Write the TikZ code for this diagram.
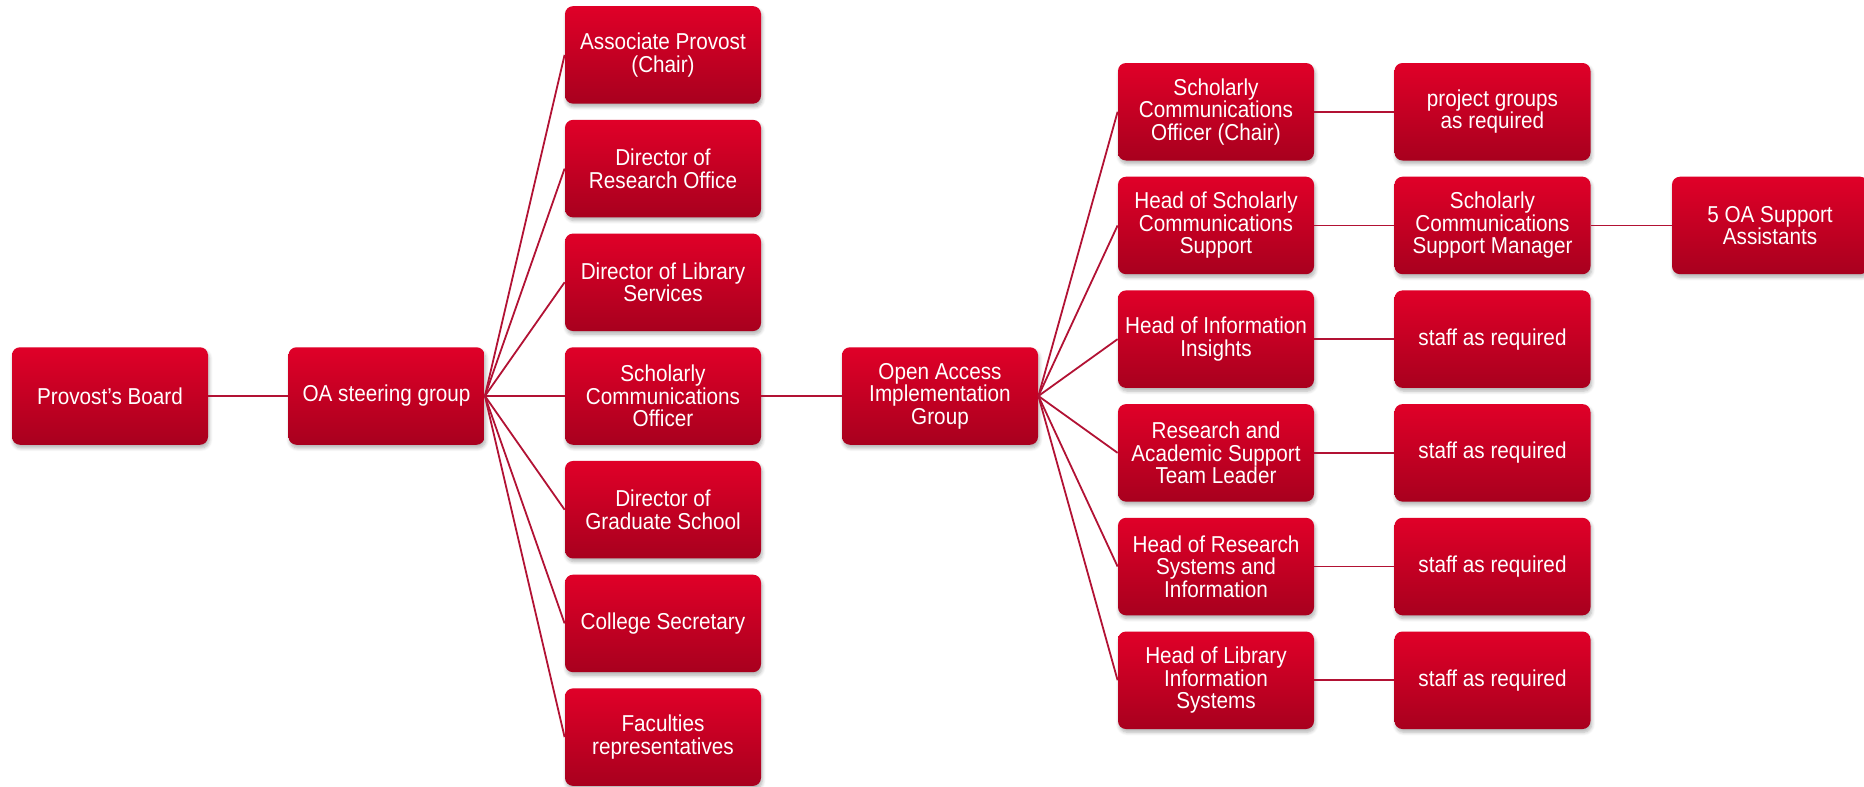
\documentclass[tikz,border=0pt]{standalone}
\usepackage{fontspec}
\usetikzlibrary{shadows.blur}
\newfontfamily\boxfont{Liberation Sans}[FakeStretch=0.9]
\definecolor{boxtop}{RGB}{224,0,40}
\definecolor{boxbot}{RGB}{168,0,30}
\definecolor{linecol}{RGB}{178,18,52}
\tikzset{
  orgbox/.style={rounded corners=4pt, minimum width=98pt, minimum height=48.75pt,
    align=center, top color=boxtop, bottom color=boxbot,
    text=white, font=\boxfont\fontsize{11.5}{11.3}\selectfont, inner sep=0pt,
    blur shadow={shadow xshift=0.6pt, shadow yshift=-1.6pt, shadow blur steps=6, shadow opacity=30}},
  link/.style={draw=linecol, line width=0.9pt}
}
\begin{document}
\begin{tikzpicture}[x=0.5pt,y=-0.5pt]
\useasboundingbox (0,0) rectangle (1864,787);
% column 0 and 1
\node[orgbox] (prov) at (110,396) {Provost’s Board};
\node[orgbox] (steer) at (386.5,396) {OA steering group};
% column 2
\node[orgbox] (assoc) at (663,54.9) {Associate Provost\\(Chair)};
\node[orgbox] (dro) at (663,168.6) {Director of\\Research Office};
\node[orgbox] (dls) at (663,282.3) {Director of Library\\Services};
\node[orgbox] (sco) at (663,396) {Scholarly\\Communications\\Officer};
\node[orgbox] (dgs) at (663,509.7) {Director of\\Graduate School};
\node[orgbox] (csec) at (663,623.4) {College Secretary};
\node[orgbox] (fac) at (663,737.1) {Faculties\\representatives};
% column 3
\node[orgbox] (oaig) at (940,396) {Open Access\\Implementation\\Group};
% column 4
\node[orgbox] (scoc) at (1216,111.75) {Scholarly\\Communications\\Officer (Chair)};
\node[orgbox] (hscs) at (1216,225.45) {Head of Scholarly\\Communications\\Support};
\node[orgbox] (hii) at (1216,339.15) {Head of Information\\Insights};
\node[orgbox] (rast) at (1216,452.85) {Research and\\Academic Support\\Team Leader};
\node[orgbox] (hrsi) at (1216,566.55) {Head of Research\\Systems and\\Information};
\node[orgbox] (hlis) at (1216,680.25) {Head of Library\\Information\\Systems};
% column 5
\node[orgbox] (pg) at (1492.5,111.75) {project groups\\as required};
\node[orgbox] (scsm) at (1492.5,225.45) {Scholarly\\Communications\\Support Manager};
\node[orgbox] (s1) at (1492.5,339.15) {staff as required};
\node[orgbox] (s2) at (1492.5,452.85) {staff as required};
\node[orgbox] (s3) at (1492.5,566.55) {staff as required};
\node[orgbox] (s4) at (1492.5,680.25) {staff as required};
% column 6
\node[orgbox] (oasa) at (1770,225.45) {5 OA Support\\Assistants};
% connectors
\draw[link] (prov.east) -- (steer.west);
\foreach \t in {assoc,dro,dls,sco,dgs,csec,fac} \draw[link] (steer.east) -- (\t.west);
\draw[link] (sco.east) -- (oaig.west);
\foreach \t in {scoc,hscs,hii,rast,hrsi,hlis} \draw[link] (oaig.east) -- (\t.west);
\draw[link] (scoc.east) -- (pg.west);
\draw[link] (hscs.east) -- (scsm.west);
\draw[link] (hii.east) -- (s1.west);
\draw[link] (rast.east) -- (s2.west);
\draw[link] (hrsi.east) -- (s3.west);
\draw[link] (hlis.east) -- (s4.west);
\draw[link] (scsm.east) -- (oasa.west);
\end{tikzpicture}
\end{document}
